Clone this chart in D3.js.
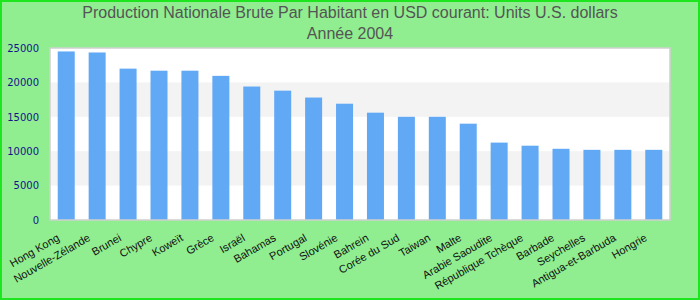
<!DOCTYPE html>
<html>
<head>
<meta charset="utf-8">
<script src="https://cdn.jsdelivr.net/npm/d3@7"></script>
<style>
  body { margin: 0; }
  svg { display: block; }
</style>
</head>
<body>
<svg width="700" height="300"></svg>
<script>
var countries = ["Hong Kong", "Nouvelle-Zélande", "Brunei", "Chypre", "Koweït", "Grèce", "Israël",
  "Bahamas", "Portugal", "Slovénie", "Bahrein", "Corée du Sud", "Taiwan", "Malte",
  "Arabie Saoudite", "République Tchèque", "Barbade", "Seychelles", "Antigua-et-Barbuda", "Hongrie"];
var values = [24500, 24350, 22000, 21700, 21700, 20950, 19400,
  18800, 17800, 16900, 15600, 15000, 15000, 14000,
  11250, 10800, 10350, 10200, 10200, 10200];
var yTicks = [0, 5000, 10000, 15000, 20000, 25000];
var titleLines = ["Production Nationale Brute Par Habitant en USD courant: Units U.S. dollars", "Année 2004"];

var svg = d3.select("svg"),
  width = 700,
  height = 300,
  margin = {top: 48, right: 30, bottom: 80, left: 50};

svg.append("rect")
  .attr("x", 1).attr("y", 1)
  .attr("width", width - 2).attr("height", height - 2)
  .attr("fill", "#90ee90")
  .attr("stroke", "#1ee61e")
  .attr("stroke-width", 2);

var x = d3.scaleBand()
  .domain(countries)
  .range([margin.left, width - margin.right])
  .paddingInner(0.45)
  .paddingOuter(0.25);

var y = d3.scaleLinear()
  .domain([0, 25000])
  .range([height - margin.bottom, margin.top]);

// plot background
svg.append("rect")
  .attr("x", margin.left).attr("y", margin.top)
  .attr("width", width - margin.left - margin.right)
  .attr("height", height - margin.top - margin.bottom)
  .attr("fill", "#fff");

// alternate bands
svg.selectAll(".band")
  .data(d3.pairs(yTicks).filter(function(d, i) { return i % 2 == 1; }))
  .enter().append("rect")
  .attr("class", "band")
  .attr("x", margin.left)
  .attr("width", width - margin.left - margin.right)
  .attr("y", function(d) { return y(d[1]); })
  .attr("height", function(d) { return y(d[0]) - y(d[1]); })
  .attr("fill", "#f3f3f3");

svg.selectAll(".bar")
  .data(values)
  .enter().append("rect")
  .attr("class", "bar")
  .attr("x", function(d, i) { return x(countries[i]); })
  .attr("width", x.bandwidth())
  .attr("y", function(d) { return y(d); })
  .attr("height", function(d) { return y(0) - y(d); })
  .attr("fill", "#62a9f5");

// plot frame
svg.append("rect")
  .attr("x", margin.left).attr("y", margin.top)
  .attr("width", width - margin.left - margin.right)
  .attr("height", height - margin.top - margin.bottom)
  .attr("fill", "none")
  .attr("stroke", "#cfcfcf")
  .attr("stroke-width", 1.5);

// y axis
var yAxis = svg.append("g")
  .attr("transform", "translate(" + (margin.left - 11) + ",0)")
  .call(d3.axisLeft(y).tickValues(yTicks).tickSize(0).tickPadding(0).tickFormat(d3.format("d")));
yAxis.select(".domain").remove();
yAxis.selectAll("text")
  .attr("fill", "#14148a")
  .style("font-family", "DejaVu Sans")
  .style("font-size", "10px");

// x labels
var xAxis = svg.append("g")
  .attr("transform", "translate(0," + (height - margin.bottom) + ")")
  .call(d3.axisBottom(x).tickSize(0));
xAxis.select(".domain").remove();
xAxis.selectAll("text")
  .attr("fill", "#111")
  .style("font-family", "Liberation Sans, Arial, sans-serif")
  .style("font-size", "11px")
  .attr("text-anchor", "end")
  .attr("dy", null)
  .attr("y", 0)
  .attr("transform", "translate(-6,20) rotate(-30)");

// title
svg.selectAll(".title")
  .data(titleLines)
  .enter().append("text")
  .attr("class", "title")
  .attr("x", width / 2)
  .attr("y", function(d, i) { return 18 + i * 21; })
  .attr("text-anchor", "middle")
  .attr("fill", "#555")
  .style("font-family", "Liberation Sans, Arial, sans-serif")
  .style("font-size", "16px")
  .text(function(d) { return d; });
</script>
</body>
</html>
